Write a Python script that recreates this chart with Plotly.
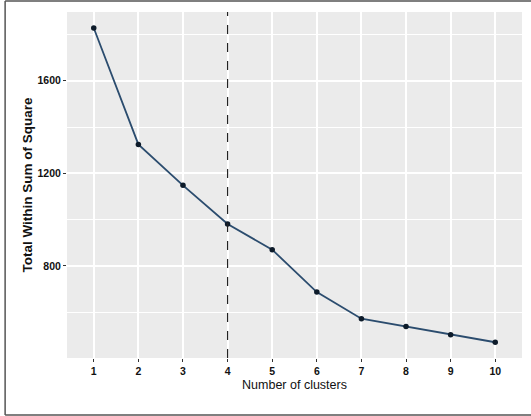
import plotly.graph_objects as go

clusters = [1, 2, 3, 4, 5, 6, 7, 8, 9, 10]
wss = [1828, 1325, 1148, 981, 870, 687, 572, 538, 502, 470]
x_ticks = [1, 2, 3, 4, 5, 6, 7, 8, 9, 10]
y_ticks = [800, 1200, 1600]
optimal_k = 4

fig = go.Figure()
fig.add_trace(go.Scatter(
    x=clusters, y=wss, mode="lines+markers",
    line=dict(color="#2b4c6e", width=1.8),
    marker=dict(color="#0d1b2a", size=5.5),
    showlegend=False,
))

fig.add_shape(type="line", xref="x", yref="paper", x0=optimal_k, x1=optimal_k, y0=0, y1=1,
              line=dict(color="#222222", width=1.2, dash="dash"))

# outer frame (left, top, bottom)
frame = dict(color="#555555", width=1.5)
fig.add_shape(type="line", xref="paper", yref="paper", x0=-0.136, x1=-0.136, y0=-0.165, y1=1.032, line=frame)
fig.add_shape(type="line", xref="paper", yref="paper", x0=-0.136, x1=1.03, y0=1.032, y1=1.032, line=frame)
fig.add_shape(type="line", xref="paper", yref="paper", x0=-0.136, x1=1.03, y0=-0.165, y1=-0.165, line=frame)

fig.update_layout(
    width=531, height=416,
    margin=dict(l=67, r=9, t=12, b=58),
    paper_bgcolor="white",
    plot_bgcolor="#ebebeb",
    font=dict(family="Liberation Sans, Arial", size=11, color="#111111"),
    xaxis=dict(
        range=[0.4, 10.6], tickmode="array", tickvals=x_ticks,
        ticktext=["<b>%d</b>" % t for t in x_ticks],
        showgrid=True, gridcolor="white", gridwidth=1.5,
        ticks="outside", ticklen=3, tickcolor="#333333",
        zeroline=False, showline=False, automargin=False,
        tickfont=dict(size=10.5, color="#111111"),
        title=dict(text="Number of clusters", font=dict(size=12.5, color="#111111"), standoff=4),
        minor=dict(showgrid=False),
    ),
    yaxis=dict(
        range=[402, 1897], tickmode="array", tickvals=y_ticks,
        ticktext=["<b>%d</b>" % t for t in y_ticks],
        showgrid=True, gridcolor="white", gridwidth=1.5,
        ticks="outside", ticklen=3, tickcolor="#333333",
        zeroline=False, showline=False, automargin=False,
        tickfont=dict(size=10.5, color="#111111"),
        title=dict(text="<b>Total Within Sum of Square</b>", font=dict(size=13.5), standoff=1),
        minor=dict(tickvals=[600, 1000, 1400, 1800], showgrid=True, gridcolor="white", gridwidth=0.9, ticks=""),
    ),
)

fig.write_html("out.html", config={"displayModeBar": False},
               post_script="document.body.style.margin='0';document.body.style.padding='0';")
